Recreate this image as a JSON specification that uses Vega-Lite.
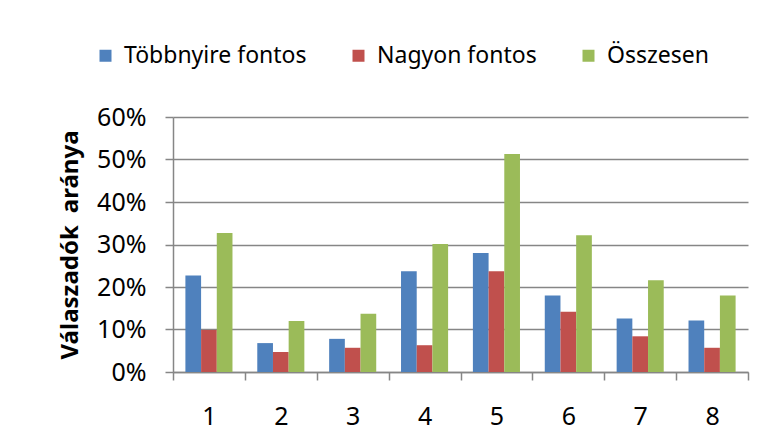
{
  "$schema": "https://vega.github.io/schema/vega-lite/v6.json",
  "width": 575,
  "height": 255,
  "autosize": {"type": "none"},
  "padding": {"left": 173, "top": 117, "right": 23, "bottom": 70},
  "background": "white",
  "config": {"view": {"stroke": null}, "font": "Noto Sans"},
  "data": {"values": [
    {"cat": "1", "series": "Többnyire fontos", "value": 0.227},
    {"cat": "1", "series": "Nagyon fontos", "value": 0.099},
    {"cat": "1", "series": "Összesen", "value": 0.327},
    {"cat": "2", "series": "Többnyire fontos", "value": 0.068},
    {"cat": "2", "series": "Nagyon fontos", "value": 0.047},
    {"cat": "2", "series": "Összesen", "value": 0.120},
    {"cat": "3", "series": "Többnyire fontos", "value": 0.078},
    {"cat": "3", "series": "Nagyon fontos", "value": 0.057},
    {"cat": "3", "series": "Összesen", "value": 0.137},
    {"cat": "4", "series": "Többnyire fontos", "value": 0.237},
    {"cat": "4", "series": "Nagyon fontos", "value": 0.063},
    {"cat": "4", "series": "Összesen", "value": 0.301},
    {"cat": "5", "series": "Többnyire fontos", "value": 0.280},
    {"cat": "5", "series": "Nagyon fontos", "value": 0.237},
    {"cat": "5", "series": "Összesen", "value": 0.513},
    {"cat": "6", "series": "Többnyire fontos", "value": 0.180},
    {"cat": "6", "series": "Nagyon fontos", "value": 0.142},
    {"cat": "6", "series": "Összesen", "value": 0.322},
    {"cat": "7", "series": "Többnyire fontos", "value": 0.126},
    {"cat": "7", "series": "Nagyon fontos", "value": 0.084},
    {"cat": "7", "series": "Összesen", "value": 0.216},
    {"cat": "8", "series": "Többnyire fontos", "value": 0.121},
    {"cat": "8", "series": "Nagyon fontos", "value": 0.057},
    {"cat": "8", "series": "Összesen", "value": 0.180}
  ]},
  "mark": {"type": "bar"},
  "encoding": {
    "x": {
      "field": "cat", "type": "nominal",
      "scale": {"paddingInner": 0, "paddingOuter": 0},
      "axis": {
        "title": null, "labelAngle": 0, "tickBand": "extent",
        "domainColor": "#868686", "domainWidth": 1.5,
        "tickColor": "#868686", "tickWidth": 1.5, "tickSize": 8,
        "labelFontSize": 25, "labelColor": "#000000", "labelPadding": 24
      }
    },
    "xOffset": {
      "field": "series", "type": "nominal",
      "sort": ["Többnyire fontos", "Nagyon fontos", "Összesen"],
      "scale": {"paddingInner": 0, "paddingOuter": 0.79}
    },
    "y": {
      "field": "value", "type": "quantitative",
      "scale": {"domain": [0, 0.6], "nice": false},
      "axis": {
        "format": ".0%", "values": [0, 0.1, 0.2, 0.3, 0.4, 0.5, 0.6],
        "title": "Válaszadók\u2002aránya", "titleFontSize": 24, "titleFontWeight": "bold",
        "titleColor": "#000000", "titlePadding": 14,
        "grid": true, "gridColor": "#868686", "gridWidth": 1.5,
        "domainColor": "#868686", "domainWidth": 1.5,
        "tickColor": "#868686", "tickWidth": 1.5, "tickSize": 8,
        "labelFontSize": 25, "labelColor": "#000000", "labelPadding": 19
      }
    },
    "color": {
      "field": "series", "type": "nominal",
      "scale": {
        "domain": ["Többnyire fontos", "Nagyon fontos", "Összesen"],
        "range": ["#4F81BD", "#C0504D", "#9BBB59"]
      },
      "legend": {
        "orient": "none", "legendX": -79, "legendY": -73,
        "direction": "horizontal", "title": null,
        "symbolType": "square", "symbolSize": 144, "symbolStrokeWidth": 0,
        "symbolOpacity": 1,
        "labelFontSize": 23, "labelColor": "#000000", "labelOffset": 7,
        "columnPadding": 40, "labelLimit": 400
      }
    }
  }
}
